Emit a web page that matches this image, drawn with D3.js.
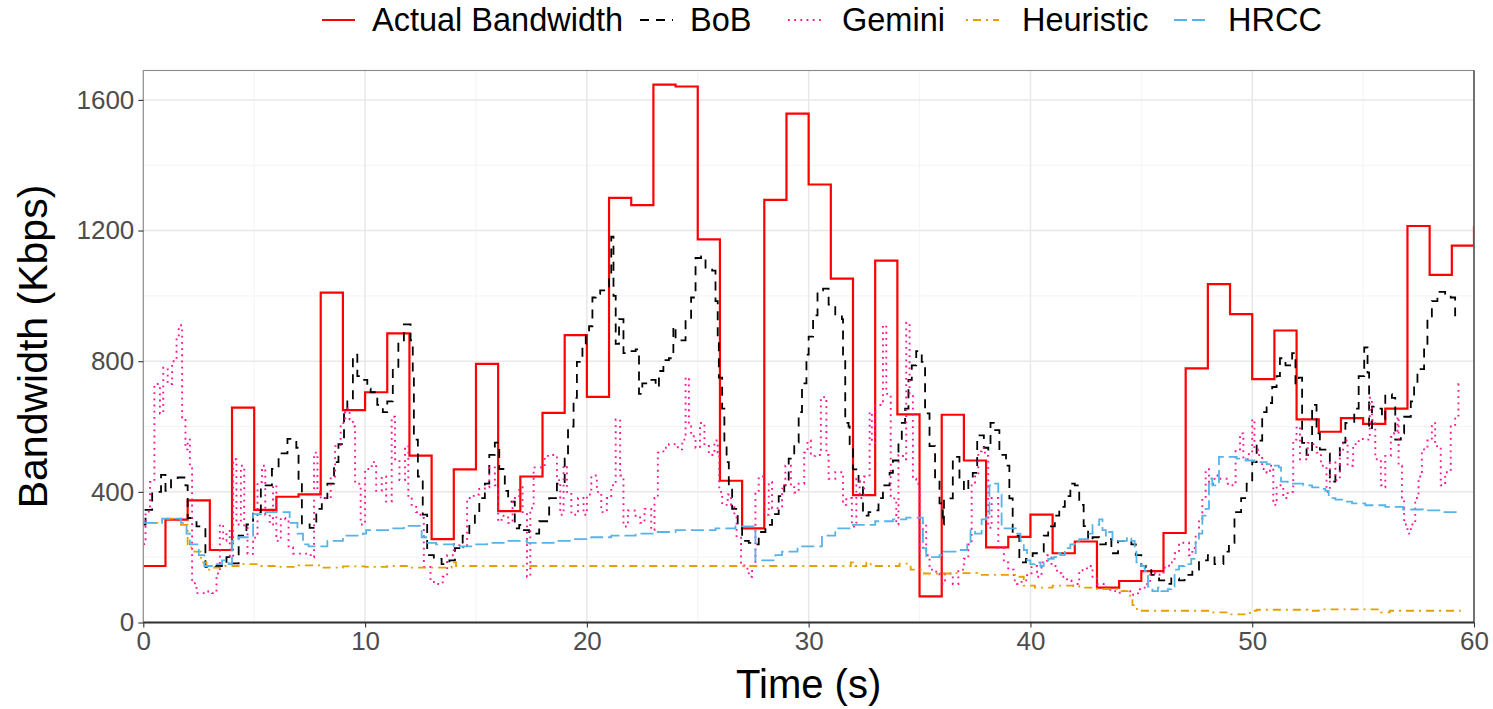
<!DOCTYPE html>
<html><head><meta charset="utf-8">
<script src="https://cdn.jsdelivr.net/npm/d3@7"></script>
<style>body{margin:0;background:#fff} svg{display:block;font-family:"Liberation Sans",Arial,Helvetica,sans-serif}</style>
</head><body><svg id="c" width="1493" height="709"></svg>
<script>
// ---------- data ----------
const seriesNames = ["Actual Bandwidth", "BoB", "Gemini", "Heuristic", "HRCC"];
const xTicks = [0, 10, 20, 30, 40, 50, 60];
const yTicks = [0, 400, 800, 1200, 1600];

// Actual bandwidth, one value per second (t = 0 .. 60)
const actualBw = [173, 315, 374, 222, 658, 345, 385, 392, 1010, 650, 705, 885, 511, 255, 469, 792, 341, 447, 642, 880,
  691, 1300, 1278, 1647, 1641, 1173, 434, 288, 1294, 1558, 1341, 1053, 390, 1108, 637, 80, 636, 496, 230, 262,
  330, 212, 248, 107, 127, 157, 274, 778, 1036, 944, 745, 894, 622, 584, 626, 608, 655, 1214, 1064, 1154, 1215];

// [time (s), bandwidth (Kbps)]
const bob = [[0,300],[0.1,345],[0.4,400],[0.8,452],[1.0,403],[1.25,436],[1.55,444],[1.9,420],[2.0,320],[2.4,294],[2.8,170],[3.3,173],[3.75,200],[3.9,181],[4.3,266],[4.65,300],[4.95,338],[5.3,420],[5.8,470],[6.1,518],[6.5,562],[6.9,535],[7.0,436],[7.15,300],[7.5,290],[7.8,348],[8.05,381],[8.3,425],[8.6,491],[8.8,546],[9.05,644],[9.2,677],[9.45,820],[9.65,754],[9.85,743],[10.1,716],[10.25,705],[10.55,666],[10.8,644],[11.0,677],[11.25,776],[11.5,864],[11.75,913],[12.05,864],[12.15,760],[12.2,560],[12.38,447],[12.6,330],[12.8,206],[13.1,195],[13.45,179],[13.8,190],[14.05,228],[14.4,266],[14.7,299],[14.95,338],[15.15,381],[15.4,425],[15.6,513],[15.85,551],[16.05,470],[16.3,403],[16.45,370],[16.75,288],[16.95,299],[17.1,283],[17.4,272],[17.85,310],[18.3,381],[18.65,425],[19.0,502],[19.15,600],[19.4,688],[19.55,798],[19.8,853],[19.95,880],[20.1,907],[20.25,995],[20.4,1006],[20.6,1017],[20.85,1022],[21.0,1061],[21.1,1181],[21.2,1000],[21.3,853],[21.45,929],[21.65,825],[21.9,831],[22.2,836],[22.35,700],[22.5,732],[22.8,743],[23.1,721],[23.25,770],[23.45,803],[23.7,809],[23.9,907],[24.0,864],[24.45,929],[24.7,995],[24.9,1116],[25.15,1121],[25.35,1083],[25.65,1077],[25.8,984],[25.9,875],[25.95,750],[26.1,655],[26.2,546],[26.3,491],[26.4,420],[26.55,348],[26.8,294],[27.0,250],[27.3,244],[27.55,239],[27.75,277],[28.05,299],[28.35,332],[28.65,387],[28.9,420],[29.1,502],[29.35,551],[29.55,644],[29.7,732],[29.9,820],[30.0,875],[30.2,940],[30.4,1017],[30.65,1022],[30.9,973],[31.2,940],[31.5,929],[31.55,820],[31.65,611],[31.8,600],[31.85,546],[32.0,469],[32.25,431],[32.45,327],[32.7,338],[32.9,343],[33.15,381],[33.35,420],[33.65,458],[33.8,496],[34.05,557],[34.2,611],[34.35,655],[34.5,743],[34.65,787],[34.85,831],[35.1,798],[35.25,640],[35.45,540],[35.7,436],[35.9,365],[36.05,300],[36.1,380],[36.5,507],[36.8,436],[37.0,403],[37.2,441],[37.4,458],[37.6,573],[37.9,535],[38.1,529],[38.2,611],[38.35,589],[38.6,513],[38.9,480],[39.05,380],[39.2,266],[39.5,184],[39.8,195],[40.1,212],[40.4,217],[40.6,266],[40.8,294],[41.1,327],[41.3,354],[41.55,387],[41.8,425],[42.0,420],[42.2,360],[42.4,295],[42.6,250],[42.8,261],[43.1,239],[43.4,255],[43.65,212],[43.95,250],[44.25,250],[44.55,239],[44.75,206],[45.0,173],[45.2,168],[45.45,146],[45.8,129],[46.1,118],[46.35,135],[46.7,129],[46.95,146],[47.3,162],[47.6,190],[48.0,206],[48.3,179],[48.7,217],[48.95,244],[49.2,338],[49.5,381],[49.75,425],[50.0,491],[50.2,557],[50.45,644],[50.65,672],[50.9,721],[51.1,754],[51.25,809],[51.5,787],[51.7,787],[51.8,825],[51.95,732],[52.1,750],[52.25,550],[52.45,513],[52.7,666],[52.9,579],[53.05,529],[53.35,518],[53.5,431],[53.75,458],[53.95,551],[54.2,611],[54.5,611],[54.6,655],[54.8,754],[55.05,842],[55.2,765],[55.27,590],[55.4,661],[55.55,655],[55.85,622],[56.0,699],[56.3,688],[56.45,560],[56.7,579],[56.85,630],[57.15,677],[57.3,732],[57.45,776],[57.75,853],[57.9,929],[58.1,984],[58.35,1012],[58.7,1006],[58.95,995],[59.15,940],[59.2,920]];

const gemini = [[0,240],[0.1,340],[0.3,430],[0.5,730],[0.75,640],[0.9,780],[1.1,730],[1.3,800],[1.5,870],[1.6,910],[1.75,620],[1.9,530],[2.0,560],[2.1,480],[2.2,120],[2.4,90],[2.8,95],[3.1,90],[3.3,150],[3.45,300],[3.6,250],[3.75,280],[3.9,200],[4.05,500],[4.2,300],[4.4,480],[4.55,290],[4.7,210],[4.95,260],[5.15,430],[5.35,480],[5.5,330],[5.7,300],[5.85,420],[6.0,250],[6.2,320],[6.4,316],[6.55,230],[6.75,211],[7.4,211],[7.55,200],[7.7,520],[7.85,400],[8.0,380],[8.2,381],[8.45,447],[8.65,540],[8.9,611],[9.1,655],[9.3,622],[9.45,600],[9.55,425],[9.8,300],[10.0,470],[10.3,491],[10.5,403],[10.75,447],[10.95,370],[11.2,630],[11.35,500],[11.55,436],[11.8,540],[11.95,380],[12.1,360],[12.3,338],[12.5,320],[12.65,170],[12.95,124],[13.3,118],[13.5,140],[13.7,206],[14.0,240],[14.25,230],[14.6,381],[14.9,392],[15.15,409],[15.4,414],[15.6,475],[15.85,420],[16.0,310],[16.15,327],[16.45,305],[16.65,381],[16.95,414],[17.1,338],[17.3,140],[17.45,350],[17.6,475],[17.9,475],[18.1,510],[18.4,513],[18.65,436],[18.8,330],[18.95,480],[19.1,400],[19.3,330],[19.6,381],[19.85,330],[20.0,392],[20.2,450],[20.45,400],[20.65,338],[20.9,381],[21.1,420],[21.3,622],[21.5,450],[21.65,294],[21.85,343],[22.2,327],[22.4,305],[22.6,348],[22.9,283],[23.05,381],[23.2,520],[23.45,535],[23.7,546],[23.9,546],[24.1,530],[24.3,560],[24.45,750],[24.6,600],[24.7,570],[24.9,535],[25.1,611],[25.3,546],[25.5,513],[25.75,557],[25.9,520],[25.97,400],[26.1,360],[26.35,392],[26.5,360],[26.65,327],[26.75,260],[26.95,180],[27.1,165],[27.3,140],[27.45,173],[27.6,400],[27.75,447],[28.0,330],[28.2,430],[28.35,350],[28.55,350],[28.8,410],[28.95,480],[29.2,420],[29.35,398],[29.55,425],[29.8,520],[29.95,557],[30.1,510],[30.3,513],[30.55,690],[30.8,513],[30.9,440],[31.2,460],[31.55,360],[31.7,381],[31.95,294],[32.15,440],[32.3,381],[32.5,447],[32.75,644],[32.85,550],[33.0,666],[33.15,666],[33.35,910],[33.5,700],[33.7,380],[33.95,300],[34.05,513],[34.25,500],[34.4,918],[34.55,700],[34.7,440],[34.85,425],[35.0,220],[35.15,305],[35.3,206],[35.45,162],[35.75,150],[35.9,140],[36.0,118],[36.15,150],[36.5,118],[36.75,162],[37.0,195],[37.2,239],[37.35,425],[37.5,447],[37.65,524],[37.8,535],[37.95,510],[38.1,290],[38.25,381],[38.55,228],[38.8,184],[39.0,162],[39.25,129],[39.4,118],[39.6,129],[39.85,151],[40.05,173],[40.3,140],[40.5,184],[40.75,206],[40.95,173],[41.2,151],[41.4,140],[41.65,129],[41.85,113],[42.0,118],[42.2,160],[42.55,173],[42.8,140],[43.0,118],[43.3,107],[43.6,96],[43.9,91],[44.2,96],[44.5,85],[44.85,102],[45.15,118],[45.4,151],[45.7,146],[46.0,168],[46.25,184],[46.5,212],[46.7,244],[46.95,244],[47.15,206],[47.3,228],[47.45,272],[47.6,316],[47.75,380],[47.9,469],[48.05,425],[48.3,450],[48.55,440],[48.9,425],[49.05,420],[49.25,530],[49.45,579],[49.6,500],[49.85,520],[50.0,622],[50.1,530],[50.25,513],[50.45,470],[50.65,458],[50.8,480],[50.95,360],[51.1,420],[51.25,420],[51.4,381],[51.6,400],[51.85,560],[52.0,600],[52.15,500],[52.35,500],[52.5,550],[52.7,546],[52.9,520],[53.1,480],[53.35,400],[53.5,490],[53.75,436],[53.95,524],[54.1,557],[54.3,480],[54.55,546],[54.8,562],[55.15,560],[55.3,688],[55.4,620],[55.55,500],[55.8,420],[55.95,414],[56.0,510],[56.25,568],[56.4,580],[56.55,630],[56.6,480],[56.75,380],[56.85,300],[57.0,272],[57.15,300],[57.35,381],[57.5,447],[57.65,530],[57.9,557],[58.1,610],[58.25,540],[58.5,420],[58.7,460],[58.95,600],[59.15,630],[59.3,730],[59.35,730]];

const heuristic = [[0,305],[0.85,318],[1.7,299],[2.0,230],[2.3,217],[2.6,184],[2.85,162],[3.1,168],[3.7,173],[4.5,179],[5.2,173],[6.0,170],[7.0,175],[8.0,168],[9.0,172],[10.0,170],[11.0,173],[12.0,168],[13.9,184],[14.1,173],[20,173],[27,173],[31.9,184],[32.1,173],[32.6,184],[32.8,173],[34.1,180],[34.6,162],[35.2,150],[36.5,151],[37.6,146],[39.5,140],[39.7,113],[40.2,107],[41.0,113],[42.2,107],[43.0,102],[43.9,96],[44.5,80],[44.6,53],[44.8,36],[48.2,31],[48.9,25],[49.9,36],[50.2,39],[52.5,36],[53,40],[55.8,31],[56.2,36],[59.4,36]];

const hrcc = [[0,305],[0.85,318],[1.7,305],[1.95,272],[2.1,239],[2.5,206],[2.75,173],[3.2,179],[3.55,190],[3.85,179],[4.0,250],[4.3,261],[4.95,332],[5.3,338],[6.6,305],[6.95,272],[7.2,239],[7.45,233],[8.3,250],[9.0,266],[9.9,272],[10.05,283],[11.1,288],[11.75,296],[12.55,261],[12.75,244],[13.2,239],[14.0,233],[14.9,239],[15.5,244],[16.4,250],[17.3,244],[18.5,250],[19.3,255],[20.2,261],[21.1,266],[22.2,272],[23.1,277],[24.0,283],[25.8,288],[26.7,294],[27.6,190],[28.5,206],[28.8,217],[29.5,233],[30.6,266],[31.2,288],[32.0,299],[33.0,310],[33.8,316],[34.4,321],[35.15,228],[35.3,200],[35.9,206],[36.1,217],[36.7,222],[37.15,239],[37.3,283],[37.5,272],[37.8,316],[38.0,327],[38.15,420],[38.4,425],[38.55,392],[38.7,288],[39.4,272],[39.55,250],[39.7,222],[39.85,190],[40.0,179],[40.2,184],[40.45,173],[40.6,184],[40.8,195],[41.05,200],[41.2,212],[41.35,206],[41.55,228],[41.8,239],[42.0,250],[42.2,255],[42.6,272],[42.8,299],[43.1,316],[43.25,283],[43.4,266],[43.55,277],[43.7,250],[44.35,261],[44.55,250],[44.7,222],[44.78,184],[45.0,173],[45.15,157],[45.3,110],[45.5,96],[45.75,107],[45.9,96],[46.2,102],[46.35,110],[46.5,162],[46.7,173],[46.95,179],[47.25,195],[47.45,250],[47.6,272],[47.75,327],[47.9,348],[48.05,425],[48.15,441],[48.2,420],[48.5,507],[49.3,502],[49.7,496],[50.1,491],[50.65,485],[50.9,480],[51.2,475],[51.3,431],[51.6,425],[52.3,420],[52.7,414],[53.05,409],[53.3,403],[53.45,381],[53.75,376],[54.1,370],[54.5,365],[55.1,359],[56.0,354],[56.8,346],[57.7,343],[58.5,338],[59.3,335]];

// ---------- chart ----------
const svg = d3.select("#c");
const P = {left: 143.3, right: 1474, top: 70.5, bottom: 622.5};
const x = d3.scaleLinear().domain([0, 60]).range([P.left, P.right]);
const y = d3.scaleLinear().domain([0, 1690]).range([P.bottom, P.top]);

const styles = {
  "Actual Bandwidth": {color: "#FF0000", dash: null, width: 2.2},
  "BoB": {color: "#000000", dash: "9,7", width: 1.8},
  "Gemini": {color: "#FF1493", dash: "1.8,4.4", width: 1.9},
  "Heuristic": {color: "#E69F00", dash: "2,5,8,5", width: 1.8},
  "HRCC": {color: "#56B4E9", dash: "13,5", width: 1.8}
};

// grid
const g = svg.append("g");
const minorX = d3.range(5, 60, 10), minorY = [200, 600, 1000, 1400];
g.selectAll(".mx").data(minorX).join("line").attr("x1", d => x(d)).attr("x2", d => x(d))
  .attr("y1", P.top).attr("y2", P.bottom).attr("stroke", "#F2F2F2").attr("stroke-width", 0.9);
g.selectAll(".my").data(minorY).join("line").attr("y1", d => y(d)).attr("y2", d => y(d))
  .attr("x1", P.left).attr("x2", P.right).attr("stroke", "#F2F2F2").attr("stroke-width", 0.9);
g.selectAll(".Mx").data(xTicks).join("line").attr("x1", d => x(d)).attr("x2", d => x(d))
  .attr("y1", P.top).attr("y2", P.bottom).attr("stroke", "#E8E8E8").attr("stroke-width", 1.5);
g.selectAll(".My").data(yTicks).join("line").attr("y1", d => y(d)).attr("y2", d => y(d))
  .attr("x1", P.left).attr("x2", P.right).attr("stroke", "#E8E8E8").attr("stroke-width", 1.5);

// clip
svg.append("defs").append("clipPath").attr("id", "clip").append("rect")
  .attr("x", P.left).attr("y", P.top).attr("width", P.right - P.left).attr("height", P.bottom - P.top);

const line = d3.line().x(d => x(d[0])).y(d => y(d[1])).curve(d3.curveStepAfter);
const seriesData = {
  "Actual Bandwidth": actualBw.map((v, i) => [i, v]),
  "BoB": bob, "Gemini": gemini, "Heuristic": heuristic, "HRCC": hrcc
};
const lines = svg.append("g").attr("clip-path", "url(#clip)");
seriesNames.forEach(name => {
  const s = styles[name];
  lines.append("path").datum(seriesData[name]).attr("d", line)
    .attr("fill", "none").attr("stroke", s.color).attr("stroke-width", s.width)
    .attr("stroke-dasharray", s.dash).attr("stroke-linejoin", "miter");
});

// panel border
svg.append("rect").attr("x", P.left).attr("y", P.top).attr("width", P.right - P.left)
  .attr("height", P.bottom - P.top).attr("fill", "none").attr("stroke", "#8a8a8a").attr("stroke-width", 1.1);
svg.append("line").attr("x1", P.right).attr("x2", P.right).attr("y1", P.top).attr("y2", P.bottom)
  .attr("stroke", "#555").attr("stroke-width", 1.4);

// axes
const xAxis = svg.append("g").attr("transform", `translate(0,${P.bottom})`)
  .call(d3.axisBottom(x).tickValues(xTicks).tickFormat(d3.format("d")).tickSize(5).tickPadding(4.5).tickSizeOuter(0));
const yAxis = svg.append("g").attr("transform", `translate(${P.left},0)`)
  .call(d3.axisLeft(y).tickValues(yTicks).tickFormat(d3.format("d")).tickSize(5).tickPadding(4).tickSizeOuter(0));
[xAxis, yAxis].forEach(a => {
  a.select(".domain").remove();
  a.selectAll(".tick line").attr("stroke", "#333").attr("stroke-width", 1.1);
  a.selectAll(".tick text").attr("fill", "#4D4D4D").style("font-size", "26px")
    .style("font-family", '"Liberation Sans",Arial,sans-serif');
});
svg.append("line").attr("x1", P.left).attr("x2", P.right).attr("y1", P.bottom).attr("y2", P.bottom)
  .attr("stroke", "#333").attr("stroke-width", 2);

// axis titles
svg.append("text").attr("x", (P.left + P.right) / 2).attr("y", 698).attr("text-anchor", "middle")
  .style("font-size", "40px").attr("fill", "#000").text("Time (s)");
svg.append("text").attr("transform", `translate(47,${(P.top + P.bottom) / 2}) rotate(-90)`)
  .attr("text-anchor", "middle").style("font-size", "41px").attr("fill", "#000").text("Bandwidth (Kbps)");

// legend
const legendKeyX = [322, 640, 788, 966, 1174];
const legendTextX = [372, 690, 842, 1022, 1228];
const leg = svg.append("g");
seriesNames.forEach((name, i) => {
  const s = styles[name];
  leg.append("line").attr("x1", legendKeyX[i]).attr("x2", legendKeyX[i] + 33).attr("y1", 20).attr("y2", 20)
    .attr("stroke", s.color).attr("stroke-width", s.width).attr("stroke-dasharray", s.dash);
  leg.append("text").attr("x", legendTextX[i]).attr("y", 31).style("font-size", "32.5px").attr("fill", "#000").text(name);
});
</script></body></html>
